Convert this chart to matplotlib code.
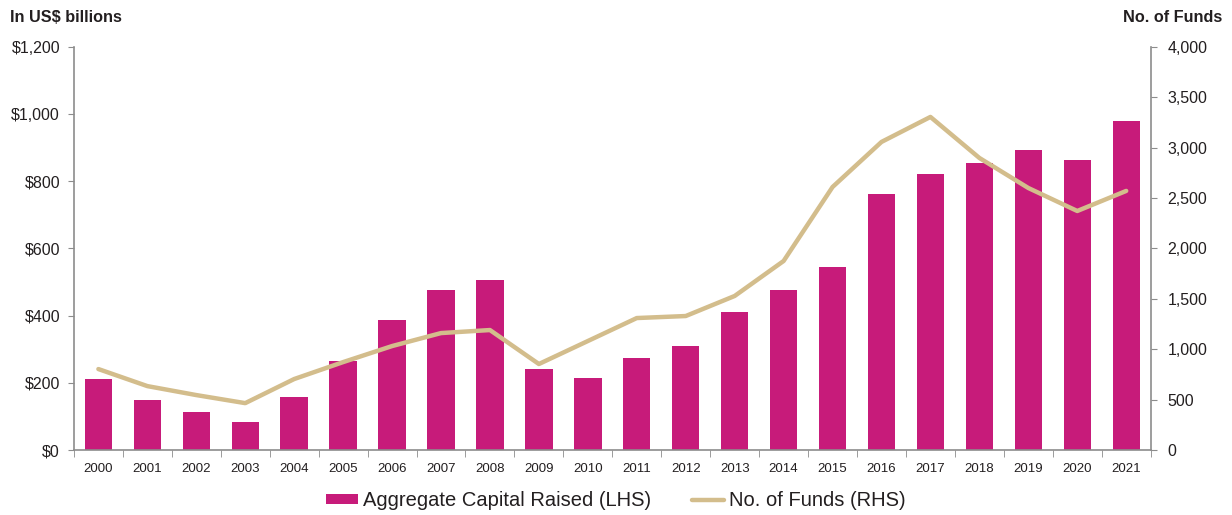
import numpy as np
import matplotlib
matplotlib.use('Agg')
from matplotlib import pyplot as plt
from matplotlib.ticker import FuncFormatter

years = [str(y) for y in range(2000, 2022)]
capital = [211, 149, 113, 83, 158, 265, 387, 476, 506, 241, 214, 274,
           310, 411, 476, 545, 762, 822, 855, 893, 864, 980]
funds = [804, 635, 546, 466, 705, 873, 1032, 1161, 1191, 854, 1082, 1310,
         1330, 1529, 1876, 2610, 3057, 3305, 2898, 2600, 2372, 2571]

plt.rcParams['font.family'] = ['Liberation Sans', 'DejaVu Sans']

bar_color = '#C71B7A'
line_color = '#D3BD8C'
grey = '#8C8C8C'
text_color = '#231F20'

fig = plt.figure(figsize=(12.32, 5.15), dpi=100)
ax = fig.add_axes([0.060, 0.126, 0.874, 0.783])
x = np.arange(len(years))
bars = ax.bar(x, capital, width=0.56, color=bar_color, label='Aggregate Capital Raised (LHS)', zorder=2)
ax.set_xlim(-0.5, len(years) - 0.5)
ax.set_ylim(0, 1200)
ax.set_yticks(range(0, 1201, 200))
ax.yaxis.set_major_formatter(FuncFormatter(lambda v, p: '${:,.0f}'.format(v)))
ax.set_xticks(x)
ax.set_xticklabels(years)
ax.set_xticks(np.arange(-0.5, len(years), 1), minor=True)
ax.tick_params(axis='x', which='major', length=0, labelsize=9.5, colors=text_color, pad=9)
ax.tick_params(axis='x', which='minor', length=5, color=grey, direction='out')
ax.tick_params(axis='y', length=4, color=grey, labelsize=11.5, labelcolor=text_color, pad=6)
for s in ['top', 'right']:
    ax.spines[s].set_visible(False)
for s in ['left', 'bottom']:
    ax.spines[s].set_color(grey)
    ax.spines[s].set_linewidth(1.2)

ax2 = ax.twinx()
line, = ax2.plot(x, funds, color=line_color, lw=3.2, label='No. of Funds (RHS)', zorder=3, solid_capstyle='round')
ax2.set_ylim(0, 4000)
ax2.set_yticks(range(0, 4001, 500))
ax2.yaxis.set_major_formatter(FuncFormatter(lambda v, p: '{:,.0f}'.format(v)))
ax2.tick_params(axis='y', length=4, color=grey, labelsize=11.5, labelcolor=text_color, pad=8)
for s in ['top', 'left', 'bottom']:
    ax2.spines[s].set_visible(False)
ax2.spines['right'].set_color(grey)
ax2.spines['right'].set_linewidth(1.2)

fig.text(10 / 1232, 1 - 17 / 515, 'In US$ billions', fontsize=11.7, fontweight='bold',
         color=text_color, va='center', ha='left')
fig.text(1222 / 1232, 1 - 17 / 515, 'No. of Funds', fontsize=11.7, fontweight='bold',
         color=text_color, va='center', ha='right')

fig.legend([bars, line], ['Aggregate Capital Raised (LHS)', 'No. of Funds (RHS)'],
           loc='center', bbox_to_anchor=(0.5, 1 - 501 / 515), ncol=2, frameon=False,
           fontsize=14.5, handlelength=1.6, handleheight=0.4, columnspacing=2.0,
           handletextpad=0.25, labelcolor=text_color)

fig.savefig('out.png', dpi=100, facecolor='white')
